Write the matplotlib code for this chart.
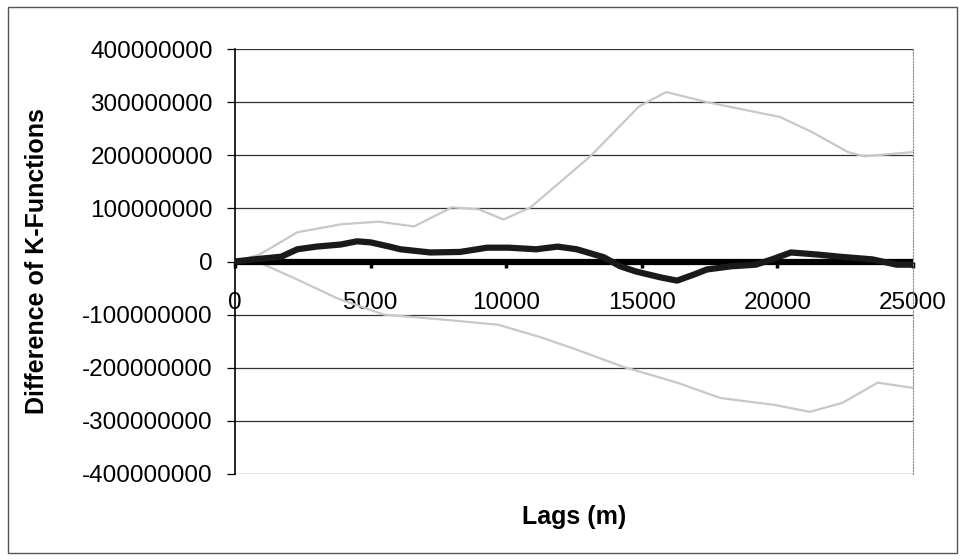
import numpy as np
import matplotlib
matplotlib.use("Agg")
from matplotlib import pyplot as plt
from matplotlib.patches import Rectangle

plt.rcParams['font.family'] = ['Liberation Sans', 'DejaVu Sans']

# lag distances (m) and K-function differences
lags_upper = [0, 900, 2300, 3900, 5300, 6600, 8000, 9000, 9900, 10900, 13100,
              14900, 15900, 17400, 20100, 21300, 22600, 23200, 25000]
upper_env = np.array([0, 13, 55, 70, 75, 66, 102, 98, 79, 102, 198,
                      292, 319, 300, 272, 243, 206, 198, 206]) * 1e6

lags_lower = [0, 900, 2300, 3800, 5500, 7600, 9700, 11300, 12600, 14300,
              16300, 17900, 19900, 21200, 22400, 23700, 25000]
lower_env = np.array([0, -2, -34, -70, -100, -109, -119, -143, -166, -198,
                      -228, -257, -270, -283, -266, -228, -238]) * 1e6

lags_obs = [0, 700, 1700, 2300, 3000, 3900, 4500, 5000, 5700, 6100, 7200, 8300,
            9300, 10100, 11100, 11900, 12600, 13000, 13600, 14200, 14800, 15700,
            16300, 16900, 17400, 18300, 19200, 19800, 20500, 21500, 22300, 23500,
            24400, 25000]
observed = np.array([0, 4, 9, 23, 28, 32, 38, 36, 28, 23, 17, 18,
                     26, 26, 23, 28, 23, 17, 8, -9, -19, -30,
                     -36, -25, -15, -9, -6, 4, 17, 13, 9, 4,
                     -6, -6]) * 1e6

lags_zero = [0, 25000]
zero_line = [0, 0]

xticks = [0, 5000, 10000, 15000, 20000, 25000]
yticks = np.arange(-400, 401, 100) * 1e6

fig = plt.figure(figsize=(9.65, 5.6), dpi=100)
ax = fig.add_axes([235 / 965, 86 / 560, 678 / 965, 425 / 560])

# outer chart border
fig.patches.append(Rectangle((8 / 965, 7 / 560), 949 / 965, 546 / 560,
                             transform=fig.transFigure, fill=False,
                             edgecolor='#555555', linewidth=1.0))

for y in yticks:
    ax.axhline(y, color='#333333', linewidth=0.9, zorder=1)

ax.plot(lags_upper, upper_env, color='#c8c8c8', linewidth=1.6, zorder=2)
ax.plot(lags_lower, lower_env, color='#c8c8c8', linewidth=1.6, zorder=2)
ax.plot(lags_zero, zero_line, color='black', linewidth=4.5, zorder=3,
        solid_capstyle='butt')
ax.plot(lags_obs, observed, color='#1a1a1a', linewidth=4.5, zorder=4)

ax.set_xlim(0, 25000)
ax.set_ylim(-400e6, 400e6)
ax.set_xticks(xticks)
ax.set_yticks(yticks)
ax.set_yticklabels([f"{int(v)}" for v in yticks])

ax.spines['bottom'].set_position(('data', 0))
ax.spines['bottom'].set_visible(False)
ax.spines['top'].set_visible(False)
ax.spines['right'].set_color('#888888')
ax.spines['right'].set_linestyle(':')
ax.spines['left'].set_linewidth(1.2)

ax.tick_params(axis='x', direction='out', length=4, width=2.5, pad=18,
               labelsize=17.5)
ax.tick_params(axis='y', direction='out', length=6, width=0.9, pad=10,
               labelsize=17.5)

ax.set_ylabel("Difference of K-Functions", fontsize=18, fontweight='bold')
ax.yaxis.set_label_coords(-0.274, 0.5)
ax.text(0.5, -0.101, "Lags (m)", transform=ax.transAxes, ha='center',
        va='center', fontsize=18, fontweight='bold')

fig.savefig("out.png", dpi=100)
